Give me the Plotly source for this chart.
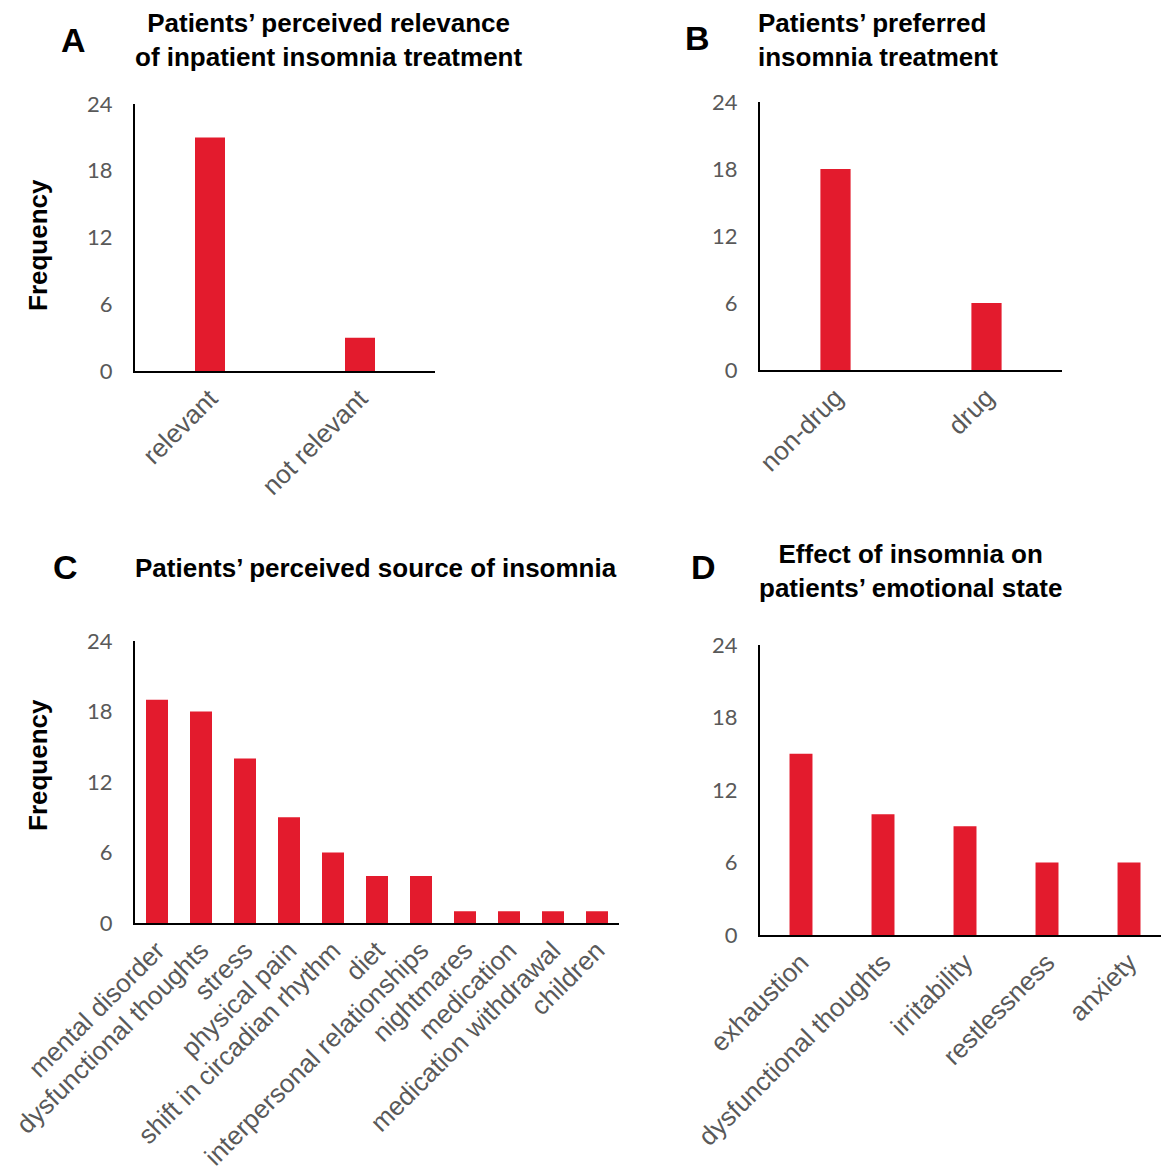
import plotly.graph_objects as go

W, H = 1161, 1174

a_cats = ["relevant", "not relevant"]
a_vals = [21, 3]
b_cats = ["non-drug", "drug"]
b_vals = [18, 6]
c_cats = ["mental disorder", "dysfunctional thoughts", "stress", "physical pain",
          "shift in circadian rhythm", "diet", "interpersonal relationships",
          "nightmares", "medication", "medication withdrawal", "children"]
c_vals = [19, 18, 14, 9, 6, 4, 4, 1, 1, 1, 1]
d_cats = ["exhaustion", "dysfunctional thoughts", "irritability", "restlessness", "anxiety"]
d_vals = [15, 10, 9, 6, 6]
y_ticks = [0, 6, 12, 18, 24]

RED = "#E31B2D"
GRAY = "#595959"

def px_x(p):
    return p / W

def px_y(p):
    return 1 - p / H

fig = go.Figure()

panels = [
    # cats, vals, x pixel domain, y pixel domain(top,bottom), bar width, x range end
    (a_cats, a_vals, (135, 435), (104, 371), 0.2, 1.5),
    (b_cats, b_vals, (760, 1062), (102, 370), 0.2, 1.5),
    (c_cats, c_vals, (135, 619), (641, 923), 0.5, 10.5),
    (d_cats, d_vals, (760, 1161), (645, 935), 0.28, 4.39),
]

for i, (cats, vals, xd, yd, bw, xend) in enumerate(panels, start=1):
    xa = "x" if i == 1 else f"x{i}"
    ya = "y" if i == 1 else f"y{i}"
    fig.add_trace(go.Bar(x=cats, y=vals, width=bw, marker=dict(color=RED, line=dict(width=0)),
                         xaxis=xa, yaxis=ya, showlegend=False))
    xkey = "xaxis" if i == 1 else f"xaxis{i}"
    ykey = "yaxis" if i == 1 else f"yaxis{i}"
    fig.update_layout(**{
        xkey: dict(domain=[px_x(xd[0]), min(1.0, px_x(xd[1]))], anchor=ya, automargin=False,
                   range=[-0.5, xend], showline=True, linecolor="black", linewidth=2,
                   showgrid=False, zeroline=False, ticks="", tickangle=-45,
                   tickfont=dict(family="Liberation Sans, Arial", size=26, color=GRAY),
                   fixedrange=True),
        ykey: dict(domain=[px_y(yd[1]), px_y(yd[0])], anchor=xa, automargin=False,
                   range=[0, 24], tickvals=y_ticks, showline=True, linecolor="black",
                   linewidth=2, showgrid=False, zeroline=False, ticks="",
                   ticklabelstandoff=16,
                   tickfont=dict(family="Lato, Open Sans", size=22, color=GRAY),
                   fixedrange=True),
    })

ann = []
title_font = dict(family="Liberation Sans, Arial", size=26, color="black", weight="bold")
letter_font = dict(family="Liberation Sans, Arial", size=34, color="black", weight="bold")

def add_text(text, x, y, font, xanchor="center", yanchor="middle", align="center", angle=0):
    ann.append(dict(text=text, x=px_x(x), y=px_y(y), xref="paper", yref="paper",
                    showarrow=False, font=font, xanchor=xanchor, yanchor=yanchor,
                    align=align, textangle=angle))

add_text("A", 73, 40, letter_font)
add_text("B", 697, 38, letter_font)
add_text("C", 65, 567, letter_font)
add_text("D", 703, 567, letter_font)

add_text("Patients’ perceived relevance<br>of inpatient insomnia treatment", 328, 40, title_font)
add_text("Patients’ preferred<br>insomnia treatment", 756, 40, title_font, xanchor="left", align="left")
add_text("Patients’ perceived source of insomnia", 376, 568, title_font)
add_text("Effect of insomnia on<br>patients’ emotional state", 910, 571, title_font)

add_text("Frequency", 38, 245, title_font, angle=-90)
add_text("Frequency", 38, 765, title_font, angle=-90)

fig.update_layout(
    width=W, height=H, margin=dict(l=0, r=0, t=0, b=0),
    paper_bgcolor="white", plot_bgcolor="white",
    annotations=ann, bargap=0.5,
)

fig.write_html("out.html", config={"displayModeBar": False},
               post_script="document.body.style.margin='0';document.body.style.overflow='hidden';")
